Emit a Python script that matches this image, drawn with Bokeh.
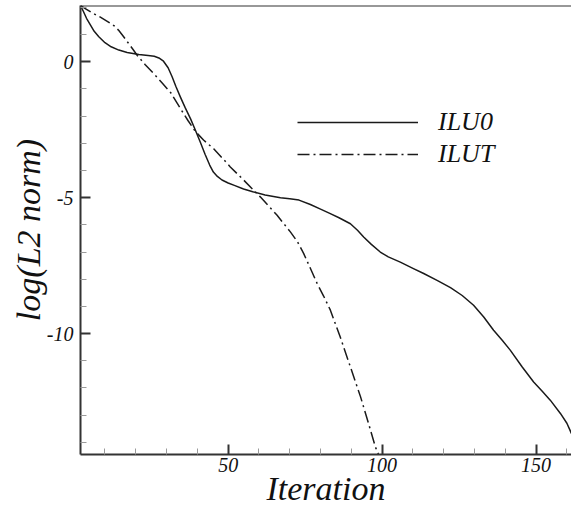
from bokeh.plotting import figure
from bokeh.models import Range1d, FixedTicker, Span, Legend, LegendItem
from bokeh.embed import file_html
from bokeh.resources import INLINE

# ---- data ----
ilu0_x = [2.05, 3.0, 4.0, 5.3, 6.5, 8.0, 10.0, 12.0, 14.5, 17.2, 21.0, 24.0, 26.0, 27.5, 29.0,
          30.5, 31.8, 33.0, 34.5, 36.0, 37.8, 39.4, 41.0, 42.5, 44.0, 45.2, 46.5, 48.0, 50.0,
          52.0, 55.0, 58.0, 62.0, 67.0, 70.0, 73.0, 76.7, 80.0, 83.0, 86.0, 89.7, 92.0, 94.0,
          96.5, 99.4, 102.0, 105.9, 110.0, 113.5, 118.0, 122.2, 126.0, 129.7, 133.0, 136.2,
          139.0, 141.6, 145.5, 149.2, 152.0, 154.6, 157.9, 160.0, 161.5]
ilu0_y = [2.07, 1.85, 1.60, 1.35, 1.12, 0.92, 0.70, 0.55, 0.43, 0.34, 0.27, 0.23, 0.20, 0.14,
          0.02, -0.22, -0.55, -0.90, -1.30, -1.68, -2.10, -2.53, -2.97, -3.40, -3.80, -4.06,
          -4.22, -4.35, -4.46, -4.55, -4.68, -4.78, -4.90, -5.00, -5.04, -5.09, -5.25, -5.42,
          -5.58, -5.74, -5.96, -6.20, -6.45, -6.72, -7.00, -7.18, -7.37, -7.60, -7.79, -8.05,
          -8.31, -8.60, -8.96, -9.39, -9.88, -10.25, -10.61, -11.23, -11.78, -12.12, -12.45,
          -12.94, -13.30, -13.68]

ilut_x = [2.05, 4.0, 6.0, 8.5, 11.0, 13.0, 14.5, 16.0, 17.5, 19.0, 20.5, 23.0, 25.8, 28.5,
          31.3, 34.5, 37.0, 39.4, 42.0, 45.3, 48.0, 50.7, 55.1, 60.5, 65.9, 70.2, 72.5, 74.5,
          76.5, 78.9, 81.0, 83.2, 86.4, 89.7, 93.0, 95.6, 97.8, 98.8]
ilut_y = [2.07, 1.93, 1.79, 1.64, 1.47, 1.32, 1.15, 0.93, 0.70, 0.47, 0.23, -0.10, -0.43,
          -0.77, -1.13, -1.72, -2.17, -2.57, -2.88, -3.20, -3.53, -3.87, -4.36, -4.98, -5.65,
          -6.26, -6.62, -7.05, -7.55, -8.16, -8.62, -9.14, -10.13, -11.23, -12.33, -13.31,
          -14.17, -14.44]

series_names = ["ILU0", "ILUT"]
x_ticks = [50, 100, 150]
x_minor = [10, 20, 30, 40, 60, 70, 80, 90, 110, 120, 130, 140, 160]
y_ticks = [0, -5, -10]
y_tick_labels = ["0", "-5", "-10"]
y_minor = [1, 2, -1, -2, -3, -4, -6, -7, -8, -9, -11, -12, -13, -14]
x_lim = (2.05, 161.5)
y_lim = (-14.45, 2.07)

FONT = "Liberation Serif"
AX = "#333333"

p = figure(width=571, height=507, output_backend="svg", toolbar_location=None,
           x_range=Range1d(*x_lim), y_range=Range1d(*y_lim),
           min_border_left=80, min_border_right=0, min_border_top=5, min_border_bottom=53,
           frame_width=491, frame_height=449)
p.outline_line_color = None
p.xgrid.visible = False
p.ygrid.visible = False
p.background_fill_color = "white"
p.border_fill_color = "white"

r1 = p.line(ilu0_x, ilu0_y, line_color="#1a1a1a", line_width=1.5, line_join="round")
r2 = p.line(ilut_x, ilut_y, line_color="#1a1a1a", line_width=1.5, line_dash="12 4 2 4",
            line_join="round")

p.xaxis.ticker = FixedTicker(ticks=x_ticks, minor_ticks=x_minor)
p.yaxis.ticker = FixedTicker(ticks=y_ticks, minor_ticks=y_minor)
p.yaxis.major_label_overrides = {t: s for t, s in zip(y_ticks, y_tick_labels)}

for ax in (p.xaxis, p.yaxis):
    ax.axis_line_color = AX
    ax.axis_line_width = 2
    ax.major_tick_line_color = AX
    ax.major_tick_line_width = 2
    ax.major_tick_in = 10
    ax.major_tick_out = 0
    ax.minor_tick_line_color = "#9a9a9a"
    ax.minor_tick_line_width = 1
    ax.minor_tick_in = 6
    ax.minor_tick_out = 0
    ax.major_label_text_font = FONT
    ax.major_label_text_font_style = "italic"
    ax.major_label_text_font_size = "20px"
    ax.major_label_text_color = "#111111"
    ax.axis_label_text_font = FONT
    ax.axis_label_text_font_style = "italic"
    ax.axis_label_text_font_size = "34px"
    ax.axis_label_text_color = "#111111"

p.xaxis.axis_label = "Iteration"
p.yaxis.axis_label = "log(L2 norm)"
p.xaxis.major_label_standoff = 3
p.xaxis.axis_label_standoff = -5
p.yaxis.major_label_standoff = 7
p.yaxis.axis_label_standoff = -3

top_line = Span(location=y_lim[1], dimension="width", line_color=AX, line_width=2)
p.add_layout(top_line)

legend = Legend(items=[LegendItem(label=series_names[0], renderers=[r1]),
                       LegendItem(label=series_names[1], renderers=[r2])],
                location=(217, 284), orientation="vertical",
                background_fill_alpha=0, border_line_color=None,
                padding=0, margin=0, spacing=0,
                glyph_width=121, glyph_height=32, label_height=32,
                label_standoff=20,
                label_text_font=FONT, label_text_font_style="italic",
                label_text_font_size="26px", label_text_color="#111111")
p.add_layout(legend)

open("out.html", "w").write(file_html(p, INLINE))
